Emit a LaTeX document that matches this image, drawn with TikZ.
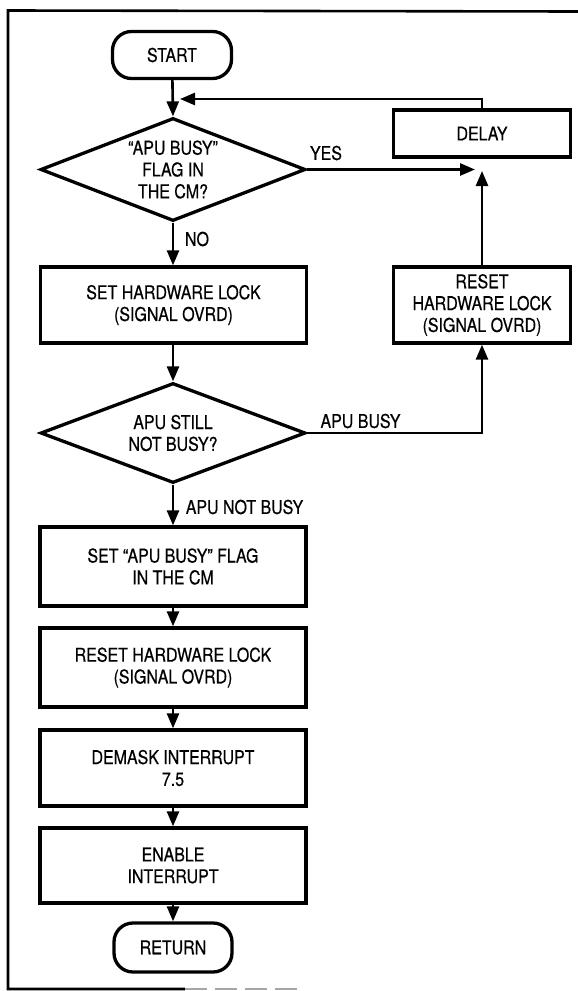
\documentclass[tikz,border=0pt]{standalone}
\usepackage{fontspec}
\setmainfont{TeX Gyre Heros}[FakeStretch=0.84,FakeBold=0.5]
\usetikzlibrary{shapes.geometric,arrows.meta}
\begin{document}
\begin{tikzpicture}[x=1pt,y=-1pt,
  every node/.style={font=\fontsize{19}{21.8}\selectfont, align=center},
  box/.style={draw, line width=3.3pt, minimum width=266pt, inner sep=0pt},
  rbox/.style={draw, line width=3.3pt, minimum width=177pt, inner sep=0pt},
  term/.style={draw, line width=3.3pt, rounded corners=19pt, minimum width=119pt, minimum height=47pt, inner sep=0pt},
  dec/.style={draw, shape=diamond, line width=3.3pt, aspect=2.6, minimum width=265pt, inner sep=0pt},
  conn/.style={line width=2.6pt, -{Triangle[length=15pt,width=12pt]}},
  lbl/.style={inner sep=0pt}
]
\useasboundingbox (0,0) rectangle (578,991);

% frame
\draw[line width=2.6pt] (578,11.5) -- (8,10.5) -- (8,989) -- (185,989);
\draw[line width=1.2pt, black!35, dash pattern=on 22pt off 8pt] (185,989) -- (300,989);

% nodes
\node[term] (start) at (172,55) {START};
\node[dec, minimum height=103pt] (d1) at (173,169.5) {``APU BUSY''\\FLAG IN\\THE CM?};
\node[rbox, minimum height=47pt] (delay) at (482,133.5) {DELAY};
\node[box, minimum height=76pt] (sethw) at (173.5,305) {SET HARDWARE LOCK\\(SIGNAL OVRD)};
\node[rbox, minimum height=76pt] (rsA) at (482,305) {RESET\\HARDWARE LOCK\\(SIGNAL OVRD)};
\node[dec, minimum height=100pt] (d2) at (173,433) {APU STILL\\NOT BUSY?};
\node[box, minimum height=79pt] (setflag) at (173,566.5) {SET ``APU BUSY'' FLAG\\IN THE CM};
\node[box, minimum height=79pt] (rsB) at (173,667.5) {RESET HARDWARE LOCK\\(SIGNAL OVRD)};
\node[box, minimum height=76pt] (demask) at (173,768) {DEMASK INTERRUPT\\7.5};
\node[box, minimum height=75pt] (enable) at (173,865.5) {ENABLE\\INTERRUPT};
\node[term, minimum width=118pt, minimum height=49pt] (ret) at (173,947.5) {RETURN};

% labels
\node[lbl] (yes) at (326,153) {YES};
\node[lbl] (no) at (197,239) {NO};
\node[lbl] (busy) at (360.5,421) {APU BUSY};
\node[lbl] (notbusy) at (244.5,507) {APU NOT BUSY};

% free ends
\coordinate (fbend) at (180,99);
\coordinate (yesend) at (475,169.5);
\coordinate (upend) at (482,171);

% connectors
\draw[conn] (start) -- (d1.north);
\draw[conn] (delay.north) |- (fbend);
\draw[conn] (d1.east) -- (yesend);
\draw[conn] (rsA.north) -- (upend);
\draw[conn] (d1.south) -- (d1.south |- sethw.north);
\draw[conn] (d1.south |- sethw.south) -- (d2.north);
\draw[conn] (d2.east) -| (rsA.south);
\draw[conn] (d2.south) -- (setflag.north);
\draw[conn] (setflag) -- (rsB);
\draw[conn] (rsB) -- (demask);
\draw[conn] (demask) -- (enable);
\draw[conn] (enable) -- (ret);
\end{tikzpicture}
\end{document}
